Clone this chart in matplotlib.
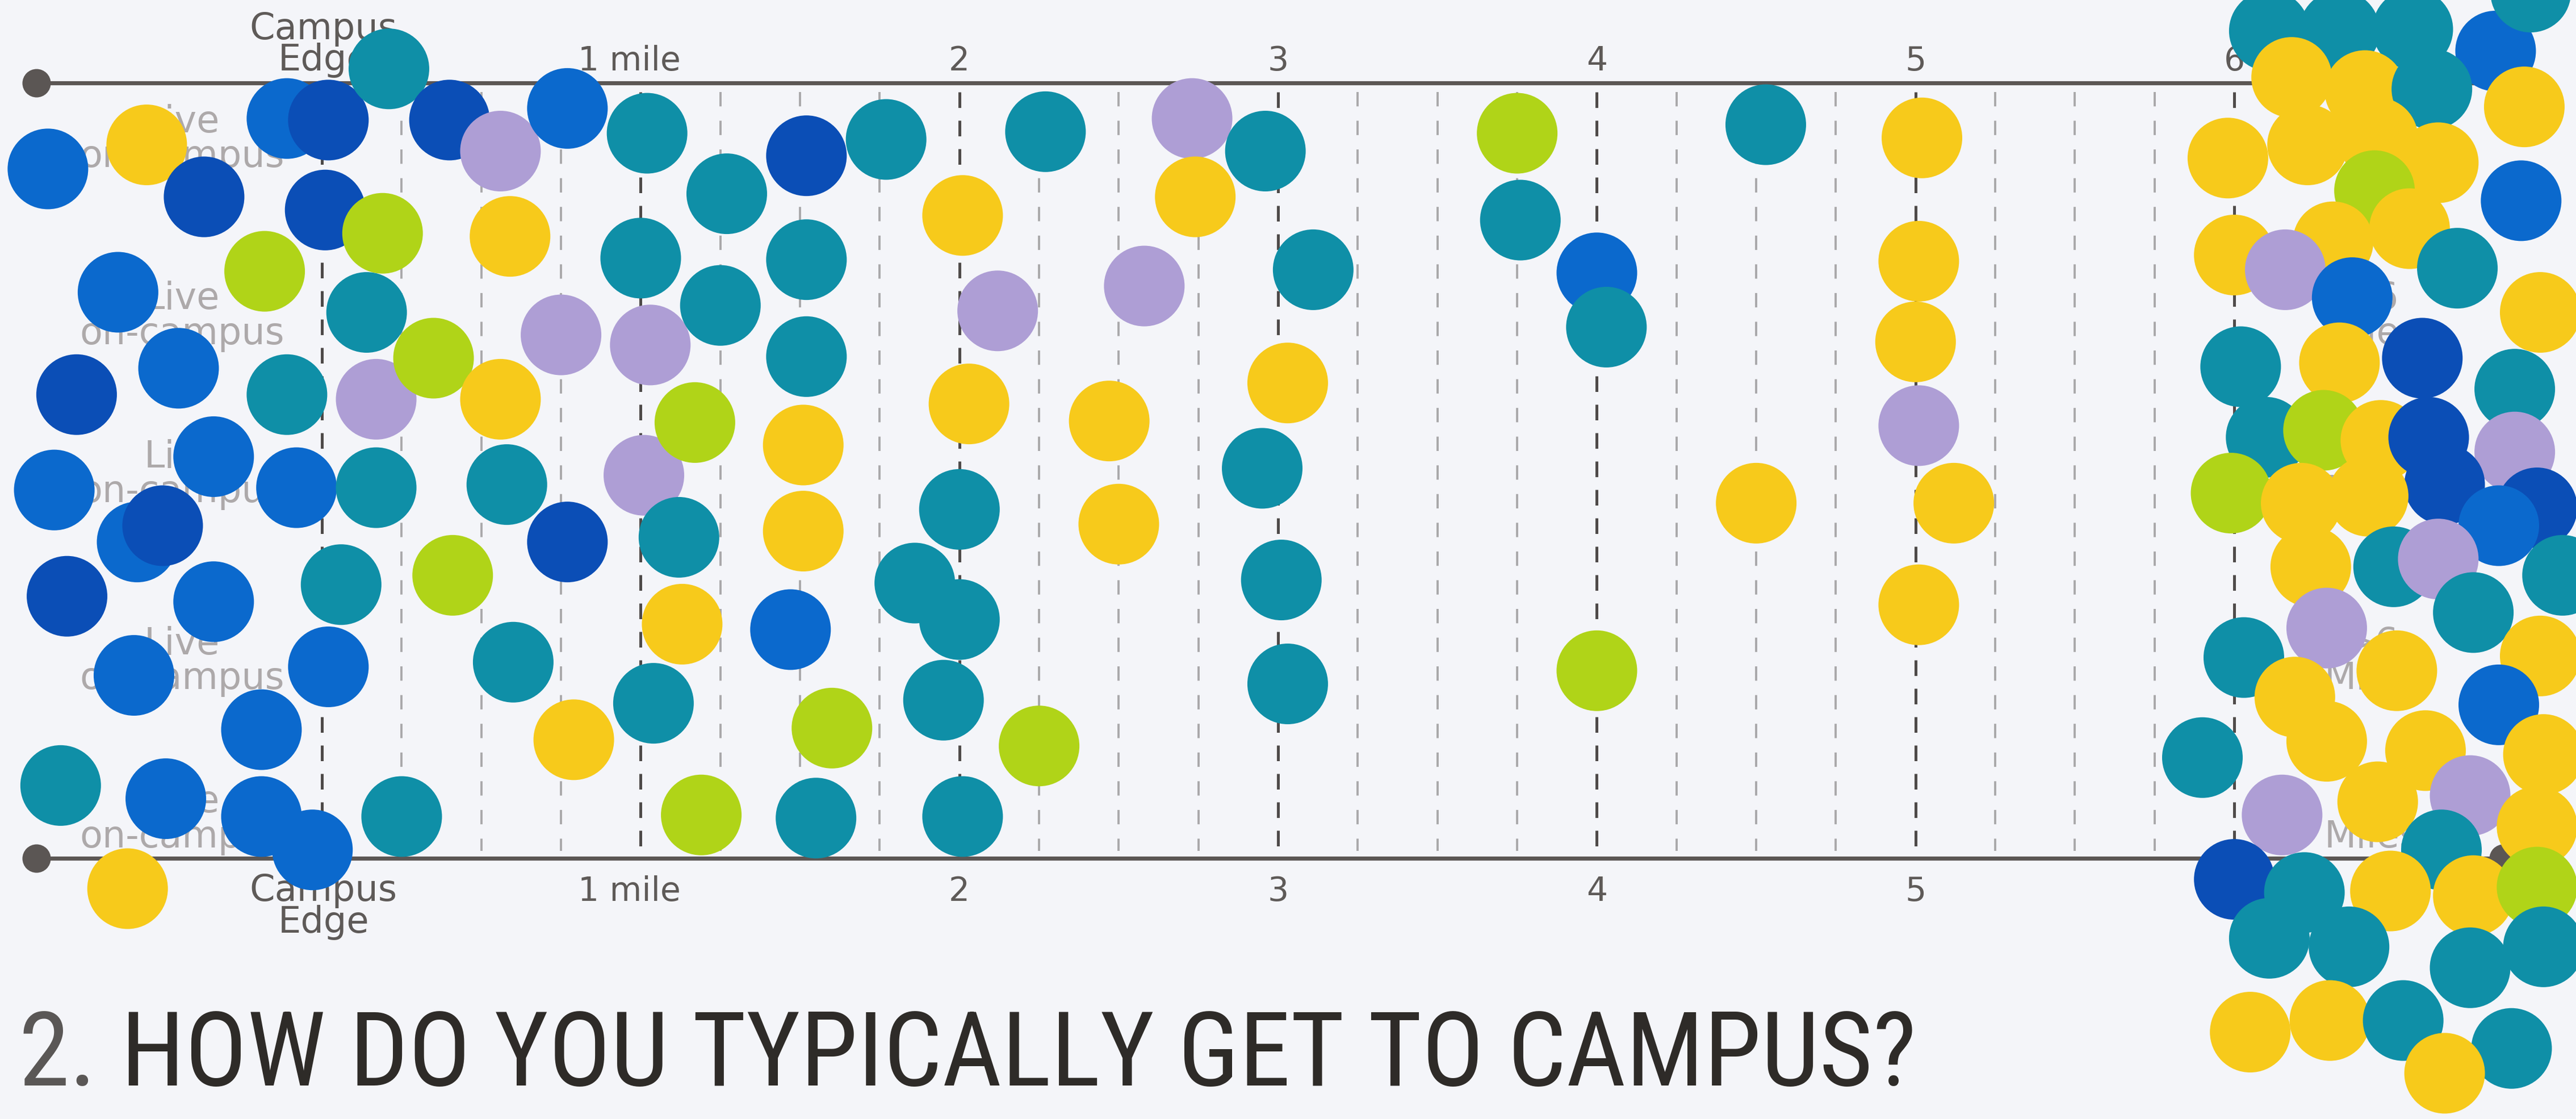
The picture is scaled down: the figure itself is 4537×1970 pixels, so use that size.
import matplotlib
matplotlib.use("Agg")
import matplotlib.pyplot as plt

# ---------------- data ----------------
# distance from campus edge in miles (negative = on campus), vertical slot
# position (0 = top rule, 10 = bottom rule) and sticker colour (travel mode)
inner_dist = [-0.86, -0.55, -0.37, -0.11, 0.02, 0.01, 0.21, 0.40, 0.56, 0.77,
              1.02, 0.59, 0.19, -0.18, -0.64, -0.77, -0.45, -0.11, 0.14, 0.17,
              0.35, 0.56, 0.75, 1.03, 1.25, 1.27, 1.52, 1.77, 1.52, 1.00,
              -0.84, -0.58, -0.50, -0.34, -0.08, 0.17, -0.80, -0.34, -0.59, 0.02,
              0.06, 0.41, 0.58, 0.77, 1.01, 1.12, 1.17, 1.51, 1.52, 1.51,
              1.13, 1.47, 0.60, -0.19, -0.82, -0.49, -0.19, -0.03, 0.25, -0.61,
              0.79, 1.04, 1.19, 1.55, 1.60, 1.95, 2.01, 2.25, 1.86, 2.00,
              2.00, 2.03, 2.12, 2.01, 2.27, 2.73, 2.74, 2.96, 2.58, 3.11,
              2.47, 2.50, 3.03, 2.95, 3.01, 3.03, 3.75, 3.76, 4.00, 4.03,
              4.00, 4.53, 5.02, 5.01, 5.00, 5.01, 4.50, 5.12, 5.01]
inner_slot = [1.11, 0.80, 1.47, 0.46, 0.48, 1.64, -0.18, 0.48, 0.88, 0.33,
              0.65, 1.98, 1.94, 2.43, 2.70, 4.02, 3.68, 4.02, 2.96, 4.08,
              3.55, 4.08, 3.25, 3.38, 2.87, 1.43, 0.94, 0.73, 2.28, 2.26,
              5.25, 5.92, 5.71, 4.82, 5.22, 5.22, 6.62, 6.69, 7.64, 7.53,
              6.47, 6.35, 5.18, 5.92, 5.06, 5.86, 4.38, 4.67, 3.53, 5.78,
              6.98, 7.05, 7.47, 8.34, 9.06, 9.23, 9.46, 9.89, 9.46, 10.39,
              8.47, 8.00, 9.44, 9.48, 8.32, 7.96, 9.46, 8.55, 6.45, 6.92,
              5.50, 4.14, 2.94, 1.71, 0.63, 0.46, 1.47, 0.88, 2.62, 2.41,
              4.36, 5.69, 3.87, 4.97, 6.41, 7.75, 0.65, 1.77, 2.45, 3.15,
              7.58, 0.54, 0.71, 2.30, 3.34, 4.42, 5.42, 5.42, 6.73]
inner_mode = ["MB", "Y", "DB", "MB", "DB", "DB", "T", "DB", "P", "MB",
              "T", "Y", "L", "L", "MB", "DB", "MB", "T", "T", "P",
              "L", "Y", "P", "P", "T", "T", "DB", "T", "T", "T",
              "MB", "MB", "DB", "MB", "MB", "T", "DB", "MB", "MB", "MB",
              "T", "L", "T", "DB", "P", "T", "L", "Y", "T", "Y",
              "Y", "MB", "T", "MB", "T", "MB", "MB", "MB", "T", "Y",
              "Y", "T", "L", "T", "L", "T", "T", "L", "T", "T",
              "T", "Y", "P", "Y", "T", "P", "Y", "T", "P", "T",
              "Y", "Y", "Y", "T", "T", "T", "L", "T", "MB", "T",
              "L", "T", "Y", "Y", "Y", "P", "Y", "Y", "Y"]

# stickers placed in the "> 6 miles" area
outer_dist = [6.11, 6.33, 6.56, 6.82, 6.93, 6.18, 6.41, 6.62, 6.91, 5.98,
              6.23, 6.45, 6.64, 6.90, 6.44, 6.55, 6.00, 6.31, 6.16, 6.37,
              6.70, 6.96, 6.02, 6.33, 6.59, 6.88, 6.10, 6.28, 6.46, 6.61,
              6.88, 6.66, 5.99, 6.21, 6.42, 6.95, 6.83, 6.24, 6.50, 6.64,
              7.03, 6.75, 6.29, 6.03, 6.51, 6.19, 6.29, 6.96, 6.83, 5.90,
              6.60, 6.97, 6.45, 6.74, 6.15, 6.95, 6.65, 6.00, 6.22, 6.49,
              6.75, 6.95, 6.11, 6.36, 6.74, 6.97, 6.05, 6.30, 6.53, 6.87,
              6.66]
outer_slot = [-0.67, -0.67, -0.69, -0.41, -1.17, -0.07, 0.10, 0.08, 0.31, 0.97,
              0.80, 0.71, 1.03, 1.52, 1.39, 1.88, 2.22, 2.05, 2.41, 2.77,
              2.39, 2.96, 3.66, 3.61, 3.55, 3.95, 4.57, 4.48, 4.61, 4.57,
              4.76, 5.18, 5.29, 5.42, 5.33, 5.48, 5.71, 6.24, 6.24, 6.14,
              6.35, 6.83, 7.03, 7.41, 7.58, 7.92, 8.49, 7.39, 8.02, 8.70,
              8.61, 8.66, 9.27, 9.19, 9.44, 9.59, 9.89, 10.27, 10.44, 10.42,
              10.48, 10.37, 11.03, 11.14, 11.41, 11.14, 12.24, 12.09, 12.09, 12.45,
              12.77]
outer_mode = ["T", "T", "T", "MB", "T", "Y", "Y", "T", "Y", "Y",
              "Y", "Y", "Y", "MB", "L", "Y", "Y", "Y", "P", "MB",
              "T", "Y", "T", "Y", "DB", "T", "T", "L", "Y", "DB",
              "P", "DB", "L", "Y", "Y", "DB", "MB", "Y", "T", "P",
              "T", "T", "P", "T", "Y", "Y", "Y", "Y", "MB", "T",
              "Y", "Y", "Y", "P", "P", "Y", "T", "DB", "T", "Y",
              "Y", "L", "T", "T", "T", "T", "Y", "Y", "T", "T",
              "Y"]

assert len(inner_dist) == len(inner_slot) == len(inner_mode)
assert len(outer_dist) == len(outer_slot) == len(outer_mode)

mile_labels = ["1 mile", "2", "3", "4", "5", "6"]
title_num = "2."
title_text = "HOW DO YOU TYPICALLY GET TO CAMPUS?"
zone_left = ["Live", "on-campus"]
zone_right = [">6", "Miles"]

# ---------------- style ----------------
BG = "#F4F5F9"
RULE = "#5B5654"
TICK_TXT = "#5E5A58"
ZONE_TXT = "#ADA9AA"
COLORS = {"T": "#0F8FA7", "DB": "#0B4EB6", "MB": "#0B69CD",
          "Y": "#F7CA1B", "L": "#B0D418", "P": "#AE9ED5"}

W, H = 4537, 1970
fig = plt.figure(figsize=(W / 100, H / 100), dpi=100)
fig.patch.set_facecolor(BG)
ax = fig.add_axes([0, 0, 1, 1])
ax.set_facecolor(BG)
ax.set_xlim(-1.0103, 7.0722)
ax.set_ylim(13.36, -1.068)
ax.axis("off")

SANS = ["DejaVu Sans"]
TITLE_FONT = ["Liberation Sans Narrow", "Arial Narrow", "Roboto Condensed",
              "Open Sans Condensed", "DejaVu Sans Condensed", "Roboto"]

# grid of dashed distance lines
quarters = [i / 4 for i in range(1, 24) if i % 4]
wholes = list(range(0, 7))
ax.vlines(quarters, 0.12, 9.9, colors="#A9A8AA", linewidth=2.8,
          linestyles=(0, (6.5, 6.5)), zorder=1)
ax.vlines(wholes, 0.12, 9.9, colors="#4E4A49", linewidth=3.6,
          linestyles=(0, (5.5, 4.5)), zorder=1)

# top / bottom rules with end dots
for yy in (0, 10):
    ax.plot([-0.897, 6.845], [yy, yy], color=RULE, lw=5.2,
            solid_capstyle="butt", zorder=2)
    ax.scatter([-0.897, 6.845], [yy, yy], s=36 ** 2, color=RULE,
               linewidths=0, zorder=2)

# distance labels
fs = 42
for m, lab in zip(range(1, 7), mile_labels):
    xx = m - 0.035 if m == 1 else m
    ax.text(xx, -0.16, lab, ha="center", va="baseline", fontsize=fs,
            color=TICK_TXT, family=SANS, zorder=3)
    ax.text(xx, 10.55, lab, ha="center", va="baseline", fontsize=fs,
            color=TICK_TXT, family=SANS, zorder=3)
for yc, ye in ((-0.56, -0.16), (10.55, 10.96)):
    ax.text(0.005, yc, "Campus", ha="center", va="baseline", fontsize=46,
            color=TICK_TXT, family=SANS, zorder=3)
    ax.text(0.005, ye, "Edge", ha="center", va="baseline", fontsize=46,
            color=TICK_TXT, family=SANS, zorder=3)

# zone labels printed on the board
for yy in (0.73, 3.01, 5.05, 7.46, 9.50):
    ax.text(-0.44, yy, "\n".join(zone_left), ha="center", va="center",
            fontsize=47, color=ZONE_TXT, family=SANS, linespacing=0.95,
            zorder=1)
    ax.text(6.43, yy, "\n".join(zone_right), ha="center", va="center",
            fontsize=47, color=ZONE_TXT, family=SANS, linespacing=0.95,
            zorder=1)

# stickers
DOT = 142 * 0.72  # diameter in points
for d, s, m in ((inner_dist, inner_slot, inner_mode),
                (outer_dist, outer_slot, outer_mode)):
    ax.scatter(d, s, s=DOT ** 2, c=[COLORS[k] for k in m], linewidths=0,
               zorder=5)

# title
t1 = ax.text(-0.952, 12.93, title_num, ha="left", va="baseline",
             fontsize=131, color="#5A5756", family=TITLE_FONT,
             fontstretch="condensed", zorder=3)
ax.annotate(" " + title_text, xy=(1, 0), xycoords=t1, ha="left", va="bottom",
            fontsize=131, color="#2E2B28", family=TITLE_FONT,
            fontstretch="condensed", zorder=3)

fig.savefig("out.png", dpi=100, facecolor=BG)
